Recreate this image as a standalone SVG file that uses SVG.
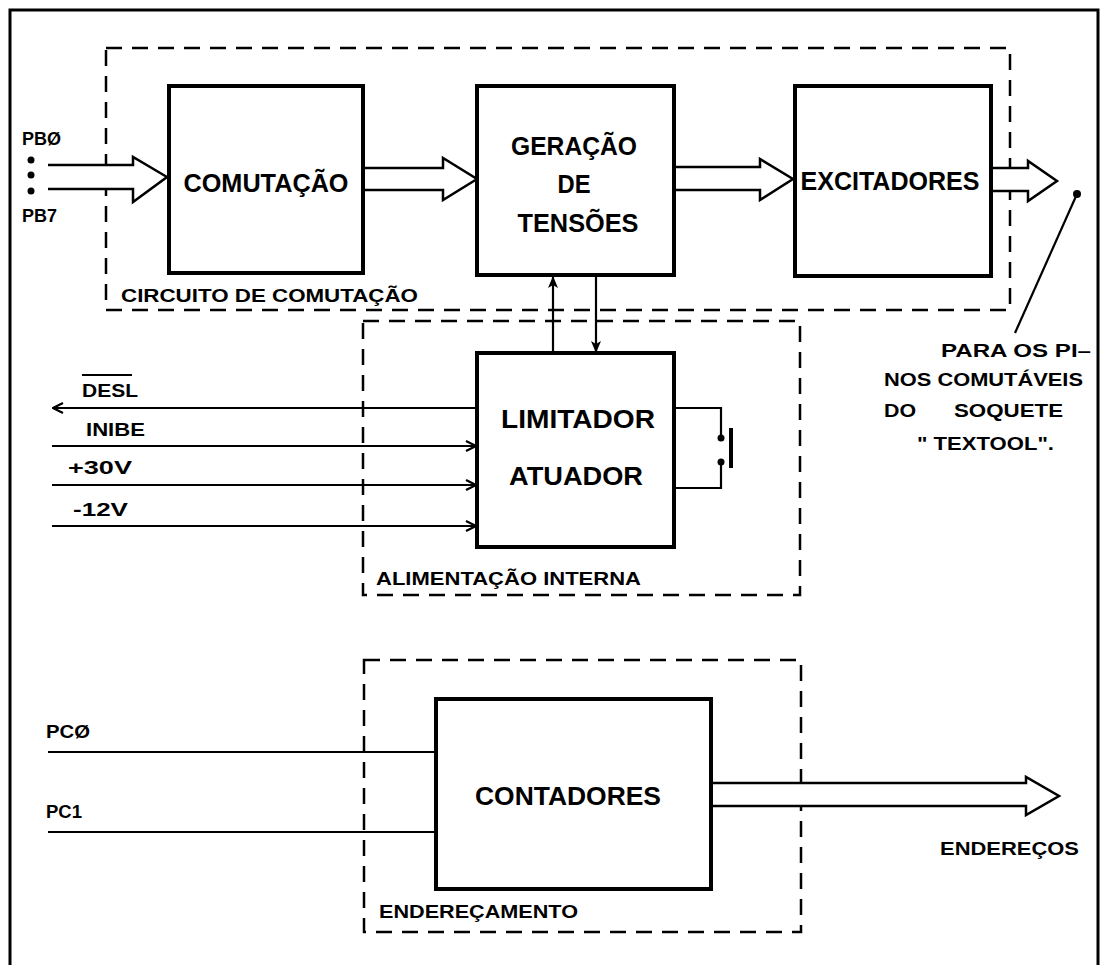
<svg xmlns="http://www.w3.org/2000/svg" width="1105" height="965" viewBox="0 0 1105 965">
<defs>
<style>
.blk{fill:#fff;stroke:#000;stroke-width:4}
.dash{fill:none;stroke:#000;stroke-width:2.5;stroke-dasharray:16 10}
.ln{fill:none;stroke:#000;stroke-width:2.2}
.bus{fill:#fff;stroke:#000;stroke-width:2.5;stroke-linejoin:miter}
.big{font-family:"Liberation Sans",Arial,sans-serif;font-weight:bold;font-size:25px;fill:#000;text-anchor:middle}
.sm{font-family:"Liberation Sans",Arial,sans-serif;font-weight:bold;font-size:18px;fill:#000}
</style>
<marker id="open" viewBox="0 0 12 12" refX="11" refY="6" markerWidth="12" markerHeight="12" markerUnits="userSpaceOnUse" orient="auto">
<path d="M1,1 L11,6 L1,11" fill="none" stroke="#000" stroke-width="2.2"/>
</marker>
<marker id="fill" viewBox="0 0 12 10" refX="12" refY="5" markerWidth="12" markerHeight="10" markerUnits="userSpaceOnUse" orient="auto">
<path d="M0,0 L12,5 L0,10 L3,5 Z" fill="#000"/>
</marker>
</defs>
<rect width="1105" height="965" fill="#fff"/>
<path d="M10,965 V10 H1098 V965" fill="none" stroke="#000" stroke-width="3"/>

<g id="grp-circuito">
<rect class="dash" x="106" y="48" width="904" height="262"/>
<text class="sm" x="121" y="302" textLength="297" lengthAdjust="spacingAndGlyphs">CIRCUITO  DE  COMUTAÇÃO</text>
</g>
<g id="grp-alimentacao">
<rect class="dash" x="363" y="321" width="437" height="274"/>
<text class="sm" x="376" y="585" textLength="265" lengthAdjust="spacingAndGlyphs">ALIMENTAÇÃO INTERNA</text>
</g>
<g id="grp-enderecamento">
<rect class="dash" x="364" y="660" width="437" height="272"/>
<text class="sm" x="379" y="918" textLength="199" lengthAdjust="spacingAndGlyphs">ENDEREÇAMENTO</text>
</g>

<g id="connectors">
<path class="bus" d="M48,165 H133 V157 L167,177 L133,202 V189 H48"/>
<path class="bus" d="M363,168 H443 V158 L477,179 L443,200 V190 H363"/>
<path class="bus" d="M674,167 H760 V159 L793,179 L760,200 V190 H674"/>
<path class="bus" d="M991,168 H1028 V161 L1057,181 L1028,201 V191 H991"/>
<path class="bus" d="M711,783 H1026 V777 L1059,796 L1026,815 V806 H711"/>
<line class="ln" x1="553" y1="355" x2="553" y2="276" marker-end="url(#fill)"/>
<line class="ln" x1="596" y1="274" x2="596" y2="353" marker-end="url(#fill)"/>
<line class="ln" x1="477" y1="408" x2="53" y2="408" marker-end="url(#open)"/>
<line class="ln" x1="52" y1="446" x2="476" y2="446" marker-end="url(#open)"/>
<line class="ln" x1="52" y1="485" x2="476" y2="485" marker-end="url(#open)"/>
<line class="ln" x1="52" y1="526" x2="476" y2="526" marker-end="url(#open)"/>
<line class="ln" x1="48" y1="752" x2="436" y2="752"/>
<line class="ln" x1="48" y1="832" x2="436" y2="832"/>
<path class="ln" d="M674,408 H721 V438"/>
<path class="ln" d="M674,488 H721 V462"/>
<circle cx="721" cy="438" r="3.5" fill="#000"/>
<circle cx="721" cy="462" r="3.5" fill="#000"/>
<rect x="729" y="428" width="4" height="40" fill="#000"/>
<line class="ln" x1="1077" y1="194" x2="1015" y2="333"/>
<circle cx="1077" cy="194" r="4" fill="#000"/>
</g>

<g id="inputs">
<text class="sm" x="22" y="145">PBØ</text>
<circle cx="31" cy="160" r="3.5" fill="#000"/>
<circle cx="31" cy="175" r="3.5" fill="#000"/>
<circle cx="31" cy="191" r="3.5" fill="#000"/>
<text class="sm" x="22" y="222">PB7</text>
<text class="sm" x="82" y="397" textLength="56" lengthAdjust="spacingAndGlyphs">DESL</text>
<line x1="82" y1="375" x2="132" y2="375" stroke="#000" stroke-width="2"/>
<text class="sm" x="86" y="436" textLength="59" lengthAdjust="spacingAndGlyphs">INIBE</text>
<text class="sm" x="68" y="474" textLength="64" lengthAdjust="spacingAndGlyphs">+30V</text>
<text class="sm" x="73" y="516" textLength="55" lengthAdjust="spacingAndGlyphs">-12V</text>
<text class="sm" x="46" y="738" textLength="44" lengthAdjust="spacingAndGlyphs">PCØ</text>
<text class="sm" x="46" y="818" textLength="36" lengthAdjust="spacingAndGlyphs">PC1</text>
</g>

<g id="node-comutacao">
<rect class="blk" x="169" y="86" width="194" height="187"/>
<text class="big" x="266" y="192" font-size="28" textLength="165" lengthAdjust="spacingAndGlyphs">COMUTAÇÃO</text>
</g>
<g id="node-geracao">
<rect class="blk" x="477" y="86" width="197" height="189"/>
<text class="big" x="574" y="155" textLength="126" lengthAdjust="spacingAndGlyphs">GERAÇÃO</text>
<text class="big" x="574" y="193" textLength="33" lengthAdjust="spacingAndGlyphs">DE</text>
<text class="big" x="578" y="232" textLength="121" lengthAdjust="spacingAndGlyphs">TENSÕES</text>
</g>
<g id="node-excitadores">
<rect class="blk" x="795" y="86" width="196" height="190"/>
<text class="big" x="890" y="190" textLength="179" lengthAdjust="spacingAndGlyphs">EXCITADORES</text>
</g>
<g id="node-limitador">
<rect class="blk" x="477" y="353" width="197" height="194"/>
<text class="big" x="578" y="428" textLength="154" lengthAdjust="spacingAndGlyphs">LIMITADOR</text>
<text class="big" x="576" y="485" textLength="134" lengthAdjust="spacingAndGlyphs">ATUADOR</text>
</g>
<g id="node-contadores">
<rect class="blk" x="436" y="699" width="275" height="190"/>
<text class="big" x="568" y="805" textLength="186" lengthAdjust="spacingAndGlyphs">CONTADORES</text>
</g>

<g id="notes">
<text class="sm" x="941" y="357" textLength="150" lengthAdjust="spacingAndGlyphs">PARA OS PI–</text>
<text class="sm" x="884" y="386" textLength="199" lengthAdjust="spacingAndGlyphs">NOS COMUTÁVEIS</text>
<text class="sm" x="884" y="417" textLength="32" lengthAdjust="spacingAndGlyphs">DO</text>
<text class="sm" x="954" y="417" textLength="109" lengthAdjust="spacingAndGlyphs">SOQUETE</text>
<text class="sm" x="917" y="450" textLength="137" lengthAdjust="spacingAndGlyphs">" TEXTOOL".</text>
<text class="sm" x="940" y="855" textLength="139" lengthAdjust="spacingAndGlyphs">ENDEREÇOS</text>
</g>
</svg>
